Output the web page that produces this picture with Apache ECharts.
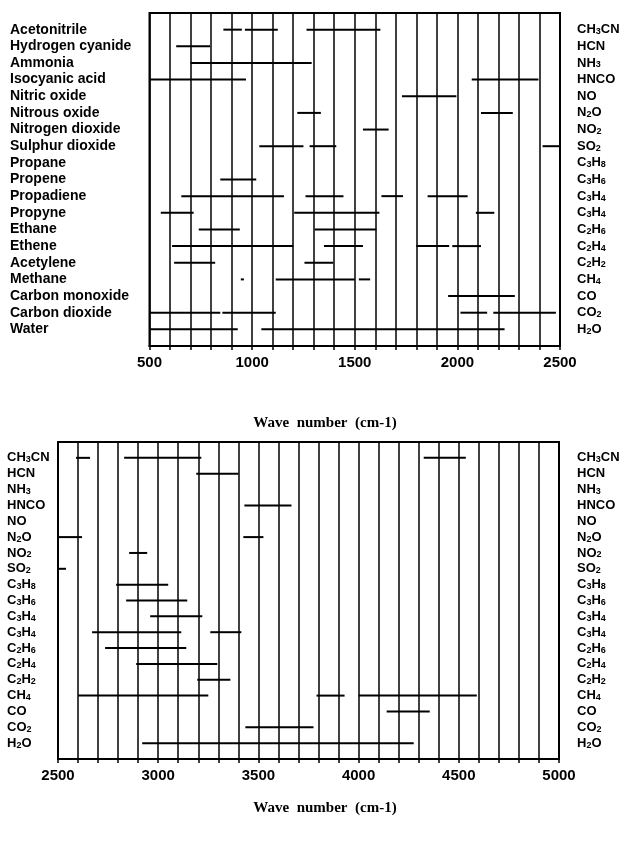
<!DOCTYPE html>
<html>
<head>
<meta charset="utf-8">
<script src="https://cdn.jsdelivr.net/npm/echarts@6/dist/echarts.min.js"></script>
<style>
html,body{margin:0;padding:0;background:#fff;}
#chart{width:626px;height:845px;}
</style>
</head>
<body>
<div id="chart"></div>
<script>
const gasNames = ['Acetonitrile', 'Hydrogen cyanide', 'Ammonia', 'Isocyanic acid', 'Nitric oxide', 'Nitrous oxide', 'Nitrogen dioxide', 'Sulphur dioxide', 'Propane', 'Propene', 'Propadiene', 'Propyne', 'Ethane', 'Ethene', 'Acetylene', 'Methane', 'Carbon monoxide', 'Carbon dioxide', 'Water'];
const formulas = ['CH3CN', 'HCN', 'NH3', 'HNCO', 'NO', 'N2O', 'NO2', 'SO2', 'C3H8', 'C3H6', 'C3H4', 'C3H4', 'C2H6', 'C2H4', 'C2H2', 'CH4', 'CO', 'CO2', 'H2O'];

// absorption ranges, 500-2500 cm-1 (one list per gas, same order as gasNames)
const lowBands = [
  [[860, 950], [965, 1125], [1265, 1625]],
  [[630, 795]],
  [[700, 1290]],
  [[500, 970], [2070, 2395]],
  [[1730, 1995]],
  [[1220, 1335], [2115, 2270]],
  [[1540, 1665]],
  [[1035, 1250], [1280, 1410], [2415, 2500]],
  [],
  [[845, 1020]],
  [[655, 1155], [1260, 1445], [1630, 1735], [1855, 2050]],
  [[555, 715], [1205, 1620], [2090, 2180]],
  [[740, 940], [1305, 1605]],
  [[610, 1200], [1350, 1540], [1800, 1960], [1975, 2115]],
  [[620, 820], [1255, 1395]],
  [[945, 960], [1115, 1500], [1520, 1575]],
  [[1955, 2280]],
  [[500, 845], [855, 1115], [2015, 2145], [2175, 2480]],
  [[500, 930], [1045, 2230]]
];

// absorption ranges, 2500-5000 cm-1
const highBands = [
  [[2590, 2660], [2830, 3215], [4325, 4535]],
  [[3190, 3400]],
  [],
  [[3430, 3665]],
  [],
  [[2500, 2620], [3425, 3525]],
  [[2855, 2945]],
  [[2500, 2540]],
  [[2790, 3050]],
  [[2840, 3145]],
  [[2960, 3220]],
  [[2670, 3115], [3260, 3415]],
  [[2735, 3140]],
  [[2890, 3295]],
  [[3195, 3360]],
  [[2600, 3250], [3790, 3930], [4000, 4590]],
  [[4140, 4355]],
  [[3435, 3775]],
  [[2920, 4275]]
];

const lowTicks = [500, 1000, 1500, 2000, 2500];
const highTicks = [2500, 3000, 3500, 4000, 4500, 5000];
const axisTitle = 'Wave  number  (cm-1)';

function flatten(bands) {
  const out = [];
  bands.forEach((list, row) => list.forEach(r => out.push([r[0], r[1], row])));
  return out;
}

function formulaRich(f) {
  return f.replace(/(\d+)/g, '}{s|$1}{b|').replace(/^/, '{b|').concat('}').replace(/\{b\|\}/g, '');
}

const sansFont = '"Liberation Sans", Arial, sans-serif';
const serifFont = 'bold 15px "Liberation Serif", "Times New Roman", serif';
const richStyles = {
  b: { fontSize: 13, fontWeight: 'bold', fontFamily: sansFont, color: '#000' },
  s: { fontSize: 9, fontWeight: 'bold', fontFamily: sansFont, color: '#000', verticalAlign: 'bottom', padding: [4, 0, 0, 0] }
};

function renderSeg(params, api) {
  const p1 = api.coord([api.value(0), api.value(2)]);
  const p2 = api.coord([api.value(1), api.value(2)]);
  return {
    type: 'line',
    shape: { x1: p1[0], y1: p1[1], x2: p2[0], y2: p2[1] },
    style: { stroke: '#000', lineWidth: 2 }
  };
}

function xAxisFor(gridIndex, min, max, ticks) {
  return {
    type: 'value', gridIndex, min, max, interval: 100, position: 'bottom',
    axisLine: { show: true, onZero: false, lineStyle: { color: '#000', width: 2 } },
    axisTick: { show: true, length: 4, lineStyle: { color: '#000', width: 1.5 } },
    splitLine: { show: true, lineStyle: { color: '#000', width: 1.5 } },
    axisLabel: {
      color: '#000', fontSize: 15, fontWeight: 'bold', fontFamily: sansFont, margin: 9,
      formatter: v => ticks.includes(v) ? String(v) : ''
    }
  };
}

function yAxisFor(gridIndex, position, margin, formatter, rich) {
  const lbl = {
    color: '#000', fontSize: 14, fontWeight: 'bold', fontFamily: sansFont,
    margin, align: 'left', formatter
  };
  if (rich) lbl.rich = rich;
  return {
    type: 'value', gridIndex, position, min: -1, max: 19, interval: 1, inverse: true,
    axisLine: { show: false, onZero: false }, axisTick: { show: false }, splitLine: { show: false },
    axisLabel: lbl
  };
}

const nameFmt = v => (v >= 0 && v < gasNames.length && Number.isInteger(v)) ? gasNames[v] : '';
const formulaFmt = v => (v >= 0 && v < formulas.length && Number.isInteger(v)) ? formulaRich(formulas[v]) : '';

const chart = echarts.init(document.getElementById('chart'), null, { renderer: 'canvas' });
chart.setOption({
  backgroundColor: '#fff',
  animation: false,
  grid: [
    { left: 149.5, right: 66, top: 13, height: 333, show: true, borderColor: '#000', borderWidth: 2, backgroundColor: 'transparent' },
    { left: 58, right: 67, top: 442, height: 317, show: true, borderColor: '#000', borderWidth: 2, backgroundColor: 'transparent' }
  ],
  xAxis: [
    xAxisFor(0, 500, 2500, lowTicks),
    xAxisFor(1, 2500, 5000, highTicks)
  ],
  yAxis: [
    yAxisFor(0, 'left', 139.5, nameFmt),
    yAxisFor(0, 'right', 17, formulaFmt, richStyles),
    yAxisFor(1, 'left', 51, formulaFmt, richStyles),
    yAxisFor(1, 'right', 18, formulaFmt, richStyles)
  ],
  graphic: [
    { type: 'text', x: 325, y: 423, style: { text: axisTitle, font: serifFont, fill: '#000', align: 'center', verticalAlign: 'middle' } },
    { type: 'text', x: 325, y: 808, style: { text: axisTitle, font: serifFont, fill: '#000', align: 'center', verticalAlign: 'middle' } }
  ],
  series: [
    { type: 'custom', xAxisIndex: 0, yAxisIndex: 0, data: flatten(lowBands), encode: { x: [0, 1], y: 2 }, renderItem: renderSeg, silent: true },
    { type: 'custom', xAxisIndex: 1, yAxisIndex: 2, data: flatten(highBands), encode: { x: [0, 1], y: 2 }, renderItem: renderSeg, silent: true }
  ]
});
</script>
</body>
</html>
